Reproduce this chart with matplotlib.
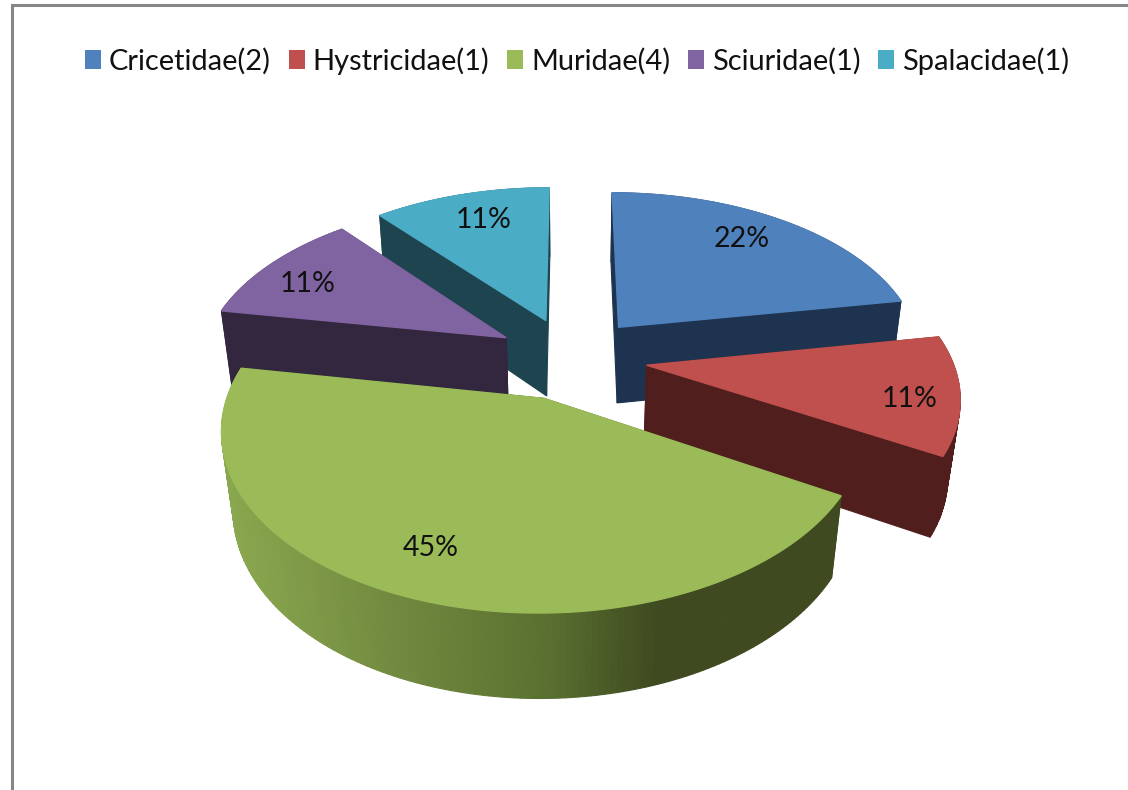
#!/usr/env/python
import matplotlib

matplotlib.use("Agg")
import matplotlib.pyplot as plt
from matplotlib.colors import to_rgb
from matplotlib.patches import Patch
import numpy as np

families = ["Cricetidae(2)", "Hystricidae(1)", "Muridae(4)", "Sciuridae(1)", "Spalacidae(1)"]
counts = [2, 1, 4, 1, 1]
share_labels = ["22%", "11%", "45%", "11%", "11%"]

TOP_COLORS = ["#4f81bd", "#c0504d", "#9bbb59", "#8064a2", "#4bacc6"]
SIDE_COLORS = ["#1e334f", "#4f1e1d", "#3f4a20", "#33263f", "#1e444f"]
GREEN_STOPS_X = [225, 400, 550, 660]
GREEN_STOPS_C = ["#8aa84f", "#71893f", "#5a7030", "#3f4a20"]
DRAW_ORDER = [4, 3, 0, 1, 2]
LABEL_RADIUS = [0.76, 0.85, 0.78, 0.83, 0.76]
LABEL_NUDGE = [(-5, -5), (-2, 8), (-13, 0), (-1, 8), (4, -2)]

# projection of the tilted pie, fitted by eye
CX, CY = 571, 358
RADIUS = 305
SIN_T, COS_T = 0.542, 0.84
CAM_DIST = 5.2
THICKNESS = 0.31
EXPLODE = 0.25


def project(x, y, z):
    x, y, z = np.asarray(x, float), np.asarray(y, float), np.asarray(z, float)
    depth = y * COS_T - z * SIN_T
    up = y * SIN_T + z * COS_T
    s = CAM_DIST / (CAM_DIST + depth)
    return CX + RADIUS * x * s, CY - RADIUS * up * s, depth


def fill_quad(ax, a, b, color):
    """Wall between two top-edge points a and b, going down by THICKNESS"""
    xs = [a[0], b[0], b[0], a[0]]
    ys = [a[1], b[1], b[1], a[1]]
    zs = [0, 0, -THICKNESS, -THICKNESS]
    px, py, _ = project(xs, ys, zs)
    ax.fill(px, py, color=color, lw=0.8)


def green_side(mean_x):
    rgb = np.array([to_rgb(c) for c in GREEN_STOPS_C])
    return tuple(np.interp(mean_x, GREEN_STOPS_X, rgb[:, i]) for i in range(3))


def draw_wedge(ax, i, start, stop):
    mid = np.radians((start + stop) / 2)
    ox, oy = EXPLODE * np.sin(mid), EXPLODE * np.cos(mid)
    theta = np.radians(np.arange(start, stop, 1.0).tolist() + [stop])
    rx, ry = ox + np.sin(theta), oy + np.cos(theta)

    side = SIDE_COLORS[i]
    fill_quad(ax, (ox, oy), (rx[0], ry[0]), side)
    fill_quad(ax, (ox, oy), (rx[-1], ry[-1]), side)
    for j in np.argsort(-(ry[:-1] + ry[1:])):
        color = side
        if i == 2:
            px, _, _ = project(rx[j], ry[j], 0)
            color = green_side(px)
        fill_quad(ax, (rx[j], ry[j]), (rx[j + 1], ry[j + 1]), color)

    px, py, _ = project(np.r_[ox, rx], np.r_[oy, ry], np.zeros(len(rx) + 1))
    # same width as the walls, so their edge does not peek out round the top
    ax.fill(px, py, color=TOP_COLORS[i], lw=1.0)

    lr = LABEL_RADIUS[i]
    lx, ly, _ = project(ox + lr * np.sin(mid), oy + lr * np.cos(mid), 0)
    nx, ny = LABEL_NUDGE[i]
    ax.text(lx + nx, ly + ny, share_labels[i], ha="center", va="center", fontsize=20.5, color="#111111", zorder=5)


def main():
    plt.rcParams["font.family"] = ["Lato", "DejaVu Sans"]
    fig = plt.figure(figsize=(11.28, 7.9), dpi=100)
    ax = fig.add_axes([0, 0, 1, 1])
    ax.set_xlim(0, 1128)
    ax.set_ylim(790, 0)
    ax.axis("off")

    ax.plot([11.5, 11.5, 1128], [790, 4.5, 4.5], color="#868686", lw=2.2, solid_joinstyle="miter")

    edges = np.cumsum([0] + counts) / sum(counts) * 360
    for i in DRAW_ORDER:
        draw_wedge(ax, i, edges[i], edges[i + 1])

    handles = [Patch(facecolor=c, edgecolor="none") for c in TOP_COLORS]
    ax.legend(
        handles,
        families,
        ncol=5,
        loc="center",
        bbox_to_anchor=(577 / 1128, 1 - 61 / 790),
        frameon=False,
        fontsize=20.9,
        handlelength=0.55,
        handleheight=0.65,
        handletextpad=0.27,
        columnspacing=0.62,
        labelcolor="#111111",
    )

    fig.savefig("out.png", dpi=100, facecolor="white")


if __name__ == "__main__":
    main()
